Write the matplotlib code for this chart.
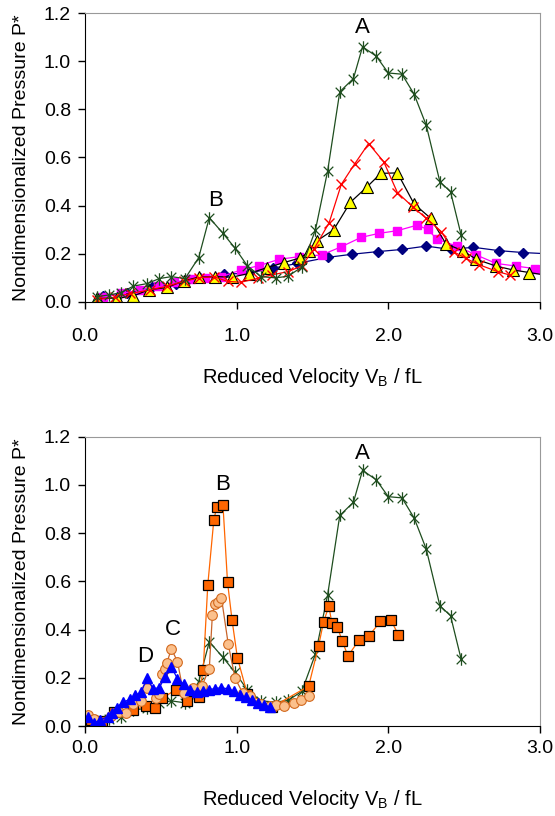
import matplotlib
matplotlib.use("Agg")
import matplotlib.pyplot as plt
from matplotlib.path import Path

plt.rcParams['font.family'] = ['Liberation Sans', 'DejaVu Sans']

# ---- top panel data ----
green_x = [0.08, 0.16, 0.24, 0.32, 0.41, 0.49, 0.57, 0.66, 0.75, 0.82, 0.91, 0.99, 1.07, 1.16,
           1.26, 1.34, 1.43, 1.52, 1.60, 1.68, 1.77, 1.83, 1.92, 2.00, 2.09, 2.17, 2.25, 2.34,
           2.41, 2.48]
green_y = [0.022, 0.029, 0.039, 0.066, 0.076, 0.097, 0.105, 0.097, 0.184, 0.35, 0.285, 0.223,
           0.151, 0.105, 0.10, 0.107, 0.145, 0.30, 0.544, 0.873, 0.928, 1.06, 1.021, 0.951,
           0.946, 0.863, 0.734, 0.499, 0.458, 0.278]

red_x = [0.08, 0.20, 0.30, 0.43, 0.54, 0.65, 0.75, 0.85, 0.94, 1.03, 1.14, 1.23, 1.34, 1.43,
         1.51, 1.61, 1.69, 1.78, 1.87, 1.97, 2.06, 2.16, 2.25, 2.35, 2.43, 2.51, 2.60, 2.72, 2.80]
red_y = [0.01, 0.02, 0.035, 0.05, 0.065, 0.085, 0.10, 0.105, 0.085, 0.082, 0.098, 0.112, 0.126,
         0.15, 0.22, 0.329, 0.488, 0.575, 0.658, 0.582, 0.454, 0.396, 0.347, 0.292, 0.209,
         0.181, 0.154, 0.126, 0.112]

yel_x = [0.08, 0.21, 0.32, 0.42, 0.54, 0.65, 0.75, 0.86, 0.97, 1.08, 1.20, 1.31, 1.42, 1.48,
         1.53, 1.64, 1.75, 1.86, 1.95, 2.06, 2.17, 2.28, 2.38, 2.49, 2.58, 2.71, 2.82, 2.93, 3.05]
yel_y = [0.015, 0.015, 0.025, 0.05, 0.06, 0.087, 0.103, 0.105, 0.103, 0.118, 0.142, 0.163,
         0.183, 0.21, 0.254, 0.30, 0.414, 0.478, 0.534, 0.536, 0.407, 0.347, 0.241, 0.213,
         0.177, 0.149, 0.133, 0.122, 0.11]

mag_x = [0.12, 0.24, 0.36, 0.48, 0.59, 0.70, 0.79, 0.90, 1.03, 1.15, 1.28, 1.41, 1.56, 1.69,
         1.82, 1.94, 2.06, 2.19, 2.26, 2.32, 2.45, 2.58, 2.71, 2.84, 2.97, 3.10]
mag_y = [0.02, 0.035, 0.05, 0.065, 0.082, 0.095, 0.098, 0.105, 0.133, 0.151, 0.177, 0.188,
         0.195, 0.229, 0.268, 0.285, 0.296, 0.319, 0.301, 0.261, 0.232, 0.195, 0.16, 0.149,
         0.138, 0.13]

navy_x = [0.12, 0.28, 0.44, 0.60, 0.76, 0.92, 1.08, 1.24, 1.40, 1.60, 1.76, 1.93, 2.09, 2.25,
          2.41, 2.56, 2.73, 2.89, 3.05]
navy_y = [0.025, 0.035, 0.06, 0.075, 0.10, 0.115, 0.12, 0.14, 0.16, 0.185, 0.198, 0.209,
          0.218, 0.232, 0.218, 0.227, 0.213, 0.205, 0.20]

# ---- bottom panel data ----
orng_x = [0.04, 0.11, 0.19, 0.32, 0.40, 0.46, 0.51, 0.60, 0.67, 0.75, 0.78, 0.81, 0.85, 0.87,
          0.91, 0.94, 0.97, 1.005, 1.07, 1.235, 1.475, 1.54, 1.573, 1.608, 1.628, 1.664,
          1.697, 1.734, 1.806, 1.873, 1.948, 2.016, 2.067]
orng_y = [0.025, 0.02, 0.059, 0.066, 0.083, 0.075, 0.116, 0.152, 0.103, 0.121, 0.235, 0.586,
          0.856, 0.91, 0.917, 0.597, 0.439, 0.284, 0.135, 0.08, 0.166, 0.332, 0.432, 0.497,
          0.427, 0.411, 0.352, 0.291, 0.356, 0.375, 0.434, 0.44, 0.379]

peach_x = [0.02, 0.06, 0.17, 0.225, 0.27, 0.32, 0.37, 0.41, 0.47, 0.49, 0.51, 0.53, 0.54,
           0.57, 0.61, 0.65, 0.71, 0.77, 0.82, 0.84, 0.855, 0.88, 0.90, 0.945, 0.99, 1.04,
           1.09, 1.16, 1.22, 1.26, 1.31, 1.375, 1.425, 1.475]
peach_y = [0.045, 0.03, 0.041, 0.059, 0.055, 0.094, 0.105, 0.16, 0.115, 0.135, 0.218, 0.239,
           0.262, 0.321, 0.268, 0.138, 0.158, 0.165, 0.239, 0.459, 0.505, 0.514, 0.532, 0.339,
           0.199, 0.138, 0.124, 0.091, 0.083, 0.087, 0.084, 0.098, 0.11, 0.127]

blue_x = [0.02, 0.06, 0.10, 0.15, 0.18, 0.21, 0.25, 0.30, 0.33, 0.37, 0.41, 0.45, 0.49, 0.53,
          0.57, 0.61, 0.65, 0.69, 0.74, 0.78, 0.82, 0.86, 0.90, 0.94, 0.98, 1.02, 1.06, 1.10,
          1.14, 1.18, 1.22]
blue_y = [0.04, 0.014, 0.025, 0.04, 0.055, 0.077, 0.10, 0.112, 0.128, 0.14, 0.20, 0.155, 0.16,
          0.205, 0.245, 0.197, 0.174, 0.15, 0.142, 0.145, 0.152, 0.156, 0.16, 0.155, 0.146,
          0.13, 0.12, 0.11, 0.095, 0.087, 0.08]

top_labels = [("A", 1.83, 1.14), ("B", 0.86, 0.42)]
bot_labels = [("A", 1.83, 1.13), ("B", 0.91, 1.0), ("C", 0.58, 0.40), ("D", 0.40, 0.29)]

# asterisk marker: an x with a vertical stroke
star = Path([(-1, -1), (1, 1), (-1, 1), (1, -1), (0, -1.3), (0, 1.3)],
            [Path.MOVETO, Path.LINETO, Path.MOVETO, Path.LINETO, Path.MOVETO, Path.LINETO])

GREEN = '#1e4d1e'


def style_axes(ax, xpad, lpad):
    ax.set_xlim(0, 3.0)
    ax.set_ylim(0, 1.2)
    ax.set_xticks([0, 1, 2, 3])
    ax.set_xticklabels(['0.0', '1.0', '2.0', '3.0'])
    ax.set_yticks([0, 0.2, 0.4, 0.6, 0.8, 1.0, 1.2])
    ax.set_yticklabels(['0.0', '0.2', '0.4', '0.6', '0.8', '1.0', '1.2'])
    ax.tick_params(direction='out', length=5, width=1, labelsize=14, pad=5)
    ax.tick_params(axis='x', pad=xpad)
    for s in ['top', 'right']:
        ax.spines[s].set_color('#999999')
    for s in ['left', 'bottom']:
        ax.spines[s].set_color('black')
    ax.set_xlabel('Reduced Velocity V$_\\mathregular{B}$ / fL', fontsize=14.5, labelpad=lpad)
    ax.set_ylabel('Nondimensionalized Pressure P*', fontsize=14, labelpad=10)


fig = plt.figure(figsize=(5.55, 8.16), dpi=100)
ax1 = fig.add_axes([0.153, 0.630, 0.820, 0.354])
ax2 = fig.add_axes([0.153, 0.110, 0.820, 0.355])

# top panel
ax1.plot(navy_x, navy_y, color='#000080', lw=0.9, marker='D', ms=5, mfc='#000080', mec='#000080')
ax1.plot(mag_x, mag_y, color='#ff00ff', lw=0.9, marker='s', ms=6, mfc='#ff00ff', mec='#ff00ff')
ax1.plot(yel_x, yel_y, color='black', lw=0.9, marker='^', ms=8, mfc='#ffff00', mec='black', mew=0.8)
ax1.plot(red_x, red_y, color='#ff0000', lw=0.9, marker='x', ms=7, mec='#ff0000', mew=1)
ax1.plot(green_x, green_y, color=GREEN, lw=0.9, marker=star, ms=9, mec=GREEN, mew=0.9)
for t, x, y in top_labels:
    ax1.text(x, y, t, fontsize=16, ha='center', va='center')
style_axes(ax1, xpad=14, lpad=15)

# bottom panel
ax2.plot(green_x, green_y, color=GREEN, lw=0.9, marker=star, ms=9, mec=GREEN, mew=0.9)
ax2.plot(orng_x, orng_y, color='#ff6600', lw=0.9, marker='s', ms=7, mfc='#ff6600', mec='black', mew=0.9)
ax2.plot(peach_x, peach_y, color='#c8642a', lw=0.9, marker='o', ms=7, mfc='#fbc08c', mec='#d2691e', mew=0.8)
ax2.plot(blue_x, blue_y, color='#0000ff', lw=0.9, marker='^', ms=7, mfc='#0000ff', mec='#0000ff')
for t, x, y in bot_labels:
    ax2.text(x, y, t, fontsize=16, ha='center', va='center')
style_axes(ax2, xpad=5, lpad=22)

fig.savefig('out.png', dpi=100)
